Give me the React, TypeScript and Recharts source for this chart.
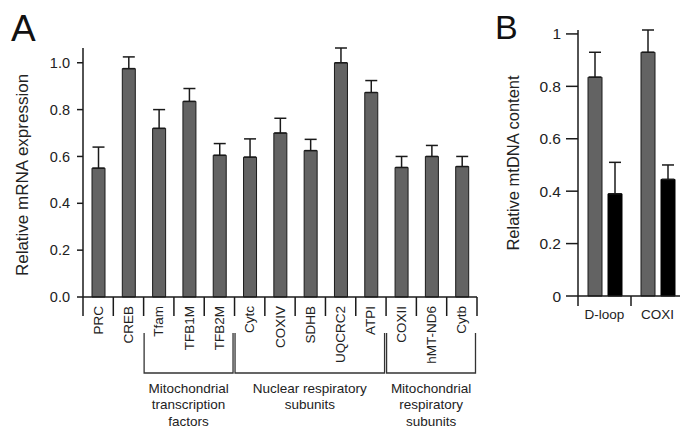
import React from 'react';
import { BarChart, Bar, XAxis, YAxis, ErrorBar } from 'recharts';

// ---------- Panel A data ----------
const genes = ['PRC', 'CREB', 'Tfam', 'TFB1M', 'TFB2M', 'Cytc', 'COXIV', 'SDHB', 'UQCRC2', 'ATPI', 'COXII', 'hMT-ND6', 'Cytb'];
const mrnaMean = [0.55, 0.975, 0.72, 0.835, 0.605, 0.597, 0.70, 0.625, 1.0, 0.873, 0.553, 0.60, 0.557];
const mrnaErrTop = [0.64, 1.025, 0.80, 0.89, 0.655, 0.675, 0.763, 0.673, 1.063, 0.924, 0.60, 0.647, 0.60];
const mrnaTicks = [0, 0.2, 0.4, 0.6, 0.8, 1.0];
const groupLabels = [
  ['Mitochondrial', 'transcription', 'factors'],
  ['Nuclear respiratory', 'subunits'],
  ['Mitochondrial', 'respiratory', 'subunits'],
];
const groupStart = [2, 5, 10];
const groupEnd = [4, 9, 12];

// ---------- Panel B data ----------
const regions = ['D-loop', 'COXI'];
const controlMean = [0.835, 0.93];
const controlErrTop = [0.93, 1.015];
const treatedMean = [0.39, 0.445];
const treatedErrTop = [0.51, 0.50];
const mtTicks = [0, 0.2, 0.4, 0.6, 0.8, 1];

const FONT = '"Liberation Sans", Arial, Helvetica, sans-serif';
const INK = '#1a1a1a';
const TXT = '#222';
const GRAY = '#636363';

const dataA = genes.map((g, i) => ({
  name: g,
  value: mrnaMean[i],
  err: [0, +(mrnaErrTop[i] - mrnaMean[i]).toFixed(3)],
}));

const dataB = regions.map((r, i) => ({
  name: r,
  control: controlMean[i],
  controlErr: [0, +(controlErrTop[i] - controlMean[i]).toFixed(3)],
  treated: treatedMean[i],
  treatedErr: [0, +(treatedErrTop[i] - treatedMean[i]).toFixed(3)],
}));

// Chart A geometry
const A_W = 490;
const A_H = 427;
const A_MARGIN = { top: 48, right: 13, bottom: 10, left: 23 };
const A_YW = 60;
const A_PLOT_W = A_W - A_MARGIN.left - A_YW - A_MARGIN.right;
const BAND_A = A_PLOT_W / genes.length;

// Chart B geometry
const B_W = 210;
const B_H = 427;
const B_MARGIN = { top: 30, right: 6, bottom: 91, left: 38 };
const B_YW = 60;
const B_PLOT_W = B_W - B_MARGIN.left - B_YW - B_MARGIN.right;
const BAND_B = B_PLOT_W / regions.length;

function GeneTick(props: any) {
  const { x, y, payload, index } = props;
  const half = BAND_A / 2;
  const gi = groupStart.indexOf(index);
  let bracket: any = null;
  if (gi >= 0) {
    const left = x - half + 0.5;
    const right = x - half + (groupEnd[gi] - groupStart[gi] + 1) * BAND_A - 1.5;
    const cx = (left + right) / 2;
    bracket = (
      <g>
        <path
          d={`M${left},${y + 36} V${y + 76} H${right} V${y + 36}`}
          fill="none"
          stroke="#333"
          strokeWidth={1.3}
        />
        {groupLabels[gi].map((t, k) => (
          <text
            key={k}
            x={cx}
            y={y + 91 + k * 16.5}
            textAnchor="middle"
            dominantBaseline="central"
            fontSize={13.5}
            fontFamily={FONT}
            fill={TXT}
          >
            {t}
          </text>
        ))}
      </g>
    );
  }
  return (
    <g>
      <line x1={x - half} x2={x - half} y1={y} y2={y + 19} stroke={INK} strokeWidth={1.5} />
      {index === genes.length - 1 && (
        <line x1={x + half} x2={x + half} y1={y} y2={y + 19} stroke={INK} strokeWidth={1.5} />
      )}
      <text
        transform={`translate(${x},${y + 9}) rotate(-90)`}
        textAnchor="end"
        dominantBaseline="central"
        fontSize={13.5}
        fontFamily={FONT}
        fill={TXT}
      >
        {payload.value}
      </text>
      {bracket}
    </g>
  );
}

function RegionTick(props: any) {
  const { x, y, payload, index } = props;
  const half = BAND_B / 2;
  return (
    <g>
      <line x1={x - half} x2={x - half} y1={y} y2={y + 10} stroke={INK} strokeWidth={1.5} />
      {index === regions.length - 1 && (
        <line x1={x + half} x2={x + half} y1={y} y2={y + 10} stroke={INK} strokeWidth={1.5} />
      )}
      <text
        x={x}
        y={y + 18}
        textAnchor="middle"
        dominantBaseline="central"
        fontSize={13.5}
        fontFamily={FONT}
        fill={TXT}
      >
        {payload.value}
      </text>
    </g>
  );
}

export default function App() {
  return (
    <div
      style={{
        position: 'absolute',
        left: 0,
        top: 0,
        width: 680,
        height: 427,
        overflow: 'hidden',
        background: '#fff',
        fontFamily: FONT,
      }}
    >
      <div style={{ position: 'absolute', left: 0, top: 0 }}>
        <BarChart width={A_W} height={A_H} data={dataA} margin={A_MARGIN}>
          <XAxis
            dataKey="name"
            interval={0}
            tickLine={false}
            tickSize={0}
            tickMargin={0}
            height={120}
            axisLine={{ stroke: INK, strokeWidth: 1.5 }}
            tick={<GeneTick />}
          />
          <YAxis
            width={A_YW}
            domain={[0, 1.05]}
            ticks={mrnaTicks}
            tickFormatter={(v: number) => v.toFixed(1)}
            tickSize={6}
            tickMargin={7}
            tickLine={{ stroke: INK, strokeWidth: 1.5 }}
            axisLine={{ stroke: INK, strokeWidth: 1.5 }}
            tick={{ fill: TXT, fontSize: 14.5, fontFamily: FONT }}
          />
          <Bar dataKey="value" fill={GRAY} stroke={INK} strokeWidth={1} barSize={13} isAnimationActive={false}>
            <ErrorBar dataKey="err" direction="y" width={6} stroke={INK} strokeWidth={1.5} />
          </Bar>
        </BarChart>
      </div>
      <div style={{ position: 'absolute', left: 480, top: 0 }}>
        <BarChart width={B_W} height={B_H} data={dataB} margin={B_MARGIN} barGap={6}>
          <XAxis
            dataKey="name"
            interval={0}
            tickLine={false}
            tickSize={0}
            tickMargin={0}
            height={40}
            axisLine={{ stroke: INK, strokeWidth: 1.5 }}
            tick={<RegionTick />}
          />
          <YAxis
            width={B_YW}
            domain={[0, 1]}
            ticks={mtTicks}
            tickFormatter={(v: number) => (v === 0 || v === 1 ? String(v) : v.toFixed(1))}
            tickSize={12}
            tickMargin={5}
            tickLine={{ stroke: INK, strokeWidth: 1.5 }}
            axisLine={{ stroke: INK, strokeWidth: 1.5 }}
            tick={{ fill: TXT, fontSize: 15.5, fontFamily: FONT }}
          />
          <Bar dataKey="control" fill={GRAY} stroke={INK} strokeWidth={1} barSize={14} isAnimationActive={false}>
            <ErrorBar dataKey="controlErr" direction="y" width={6} stroke={INK} strokeWidth={1.5} />
          </Bar>
          <Bar dataKey="treated" fill="#000" stroke="#000" strokeWidth={1} barSize={14} isAnimationActive={false}>
            <ErrorBar dataKey="treatedErr" direction="y" width={6} stroke={INK} strokeWidth={1.5} />
          </Bar>
        </BarChart>
      </div>
      <svg
        width={680}
        height={427}
        style={{ position: 'absolute', left: 0, top: 0, pointerEvents: 'none' }}
      >
        <text x={11} y={41} fontSize={37} fontFamily={FONT} fill="#111">A</text>
        <text x={495} y={39} fontSize={34} fontFamily={FONT} fill="#111">B</text>
        <text
          transform="translate(22,175) rotate(-90)"
          textAnchor="middle"
          dominantBaseline="central"
          fontSize={17}
          fontFamily={FONT}
          fill={TXT}
        >
          Relative mRNA expression
        </text>
        <text
          transform="translate(513,163) rotate(-90)"
          textAnchor="middle"
          dominantBaseline="central"
          fontSize={16.5}
          fontFamily={FONT}
          fill={TXT}
        >
          Relative mtDNA content
        </text>
      </svg>
    </div>
  );
}
